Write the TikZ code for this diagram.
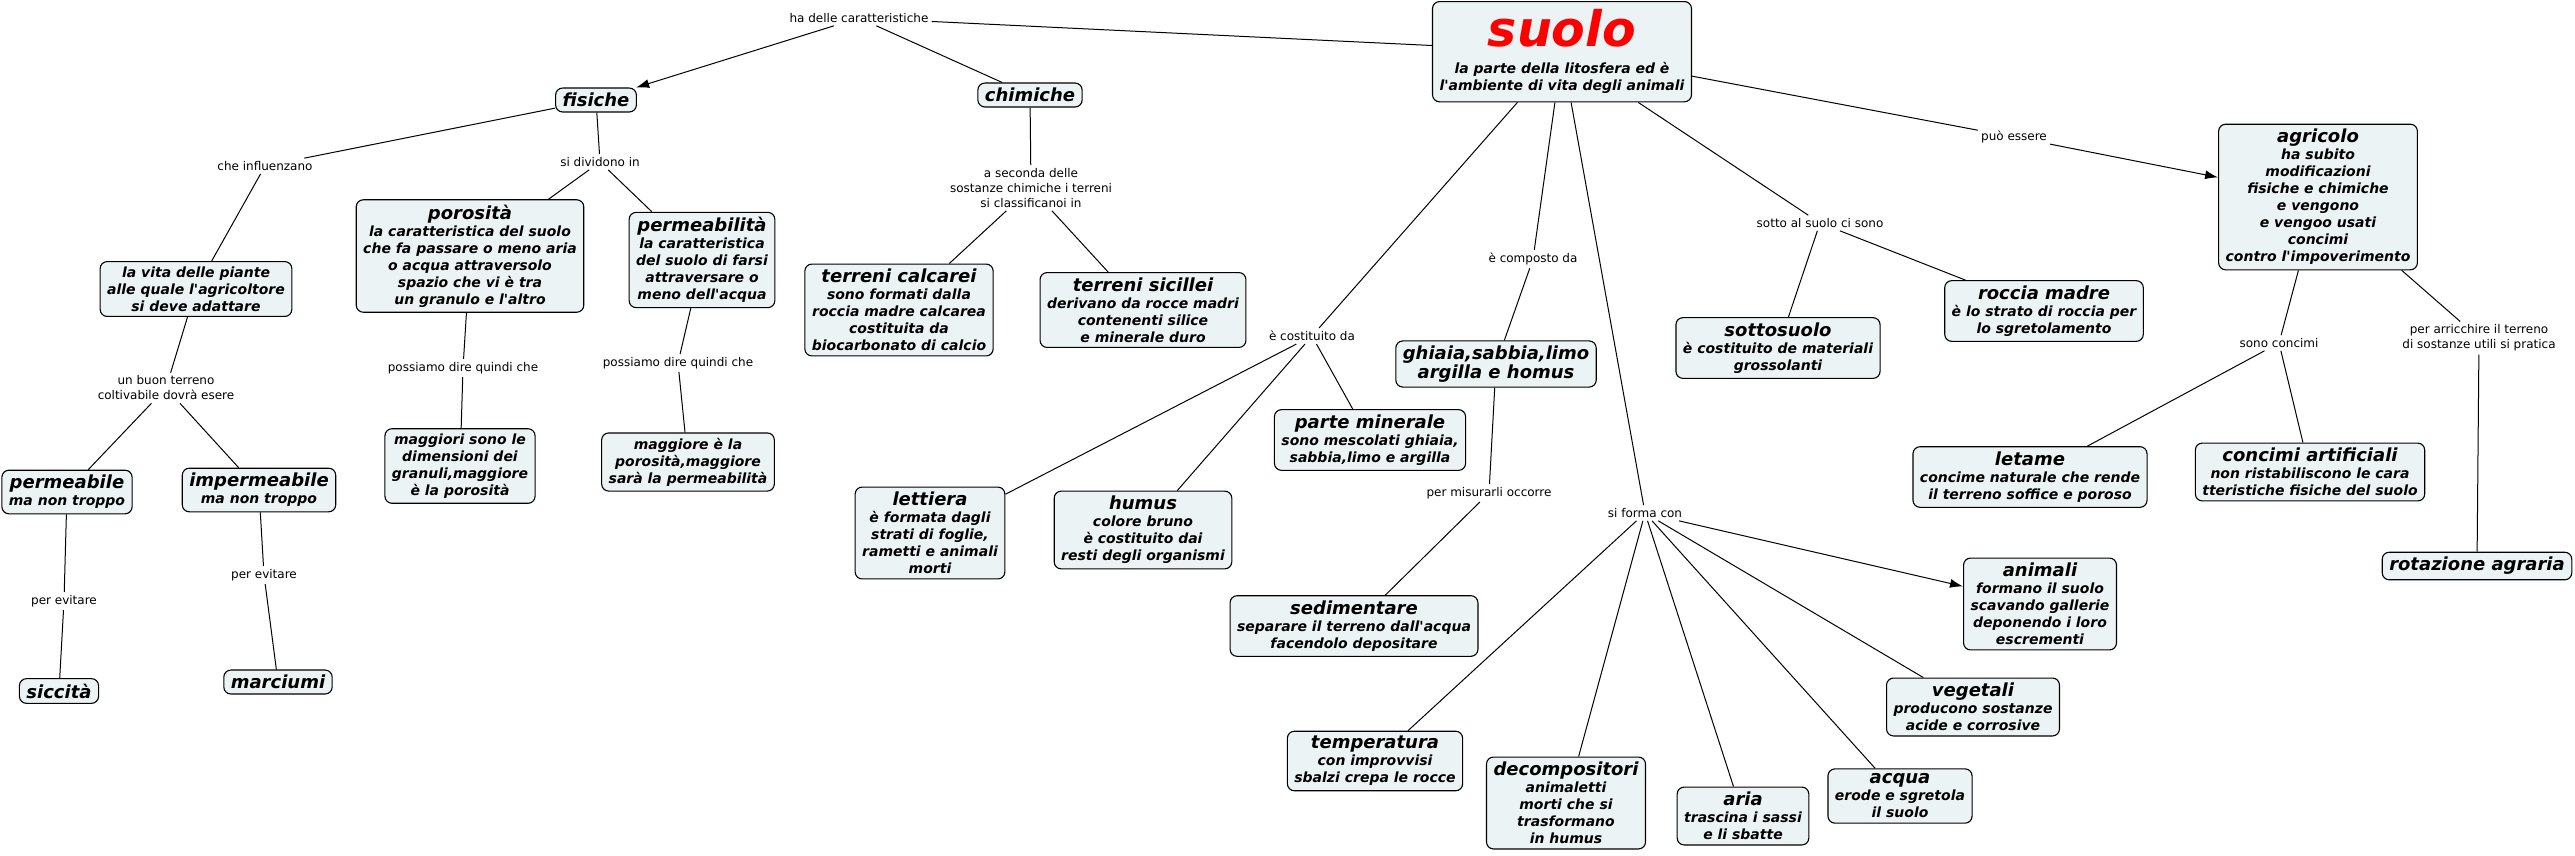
\documentclass[tikz,border=0pt]{standalone}
\usepackage{fontspec}
\newfontfamily\cmapfont{DejaVu Sans}
\usepackage{tikz}
\usetikzlibrary{arrows.meta}
\definecolor{boxfill}{RGB}{236,243,245}
\newcommand{\ctitle}[1]{{\fontsize{18}{21}\selectfont #1}}

\begin{document}
\begin{tikzpicture}[x=1pt, y=-1pt,
    concept/.style={draw, line width=1.1pt, rounded corners=7pt, fill=boxfill, align=center,
        inner xsep=7pt, inner ysep=5pt, font=\cmapfont\bfseries\itshape\fontsize{14}{17}\selectfont},
    linkword/.style={align=center, inner sep=3pt, font=\cmapfont\fontsize{12}{15}\selectfont},
    link/.style={line width=1pt},
    arrowlink/.style={link, -{Latex[length=13pt, width=9pt]}}]
                \useasboundingbox (0,0) rectangle (2575,855);

                % concetti
                \node[concept, anchor=north, inner ysep=8pt] (suolo) at (1562,1) {\textcolor{red}{\fontsize{49}{50}\selectfont suolo}\\[10pt] la parte della litosfera ed è\\ l'ambiente di vita degli animali};
                \node[concept] (fisiche) at (596,100) {\ctitle{fisiche}};
                \node[concept] (chimiche) at (1030,95) {\ctitle{chimiche}};
                \node[concept] (vita) at (196,289) {la vita delle piante\\ alle quale l'agricoltore\\ si deve adattare};
                \node[concept] (porosita) at (470,256) {\ctitle{porosità}\\ la caratteristica del suolo\\ che fa passare o meno aria\\ o acqua attraversolo\\ spazio che vi è tra\\ un granulo e l'altro};
                \node[concept] (permeab) at (702,260) {\ctitle{permeabilità}\\ la caratteristica\\ del suolo di farsi\\ attraversare o\\ meno dell'acqua};
                \node[concept] (calcarei) at (899,310) {\ctitle{terreni calcarei}\\ sono formati dalla\\ roccia madre calcarea\\ costituita da\\ biocarbonato di calcio};
                \node[concept] (sicillei) at (1143,310) {\ctitle{terreni sicillei}\\ derivano da rocce madri\\ contenenti silice\\ e minerale duro};
                \node[concept] (permeabile) at (67,492) {\ctitle{permeabile}\\ ma non troppo};
                \node[concept] (impermeabile) at (259,490) {\ctitle{impermeabile}\\ ma non troppo};
                \node[concept] (maggiori) at (460,466) {maggiori sono le\\ dimensioni dei\\ granuli,maggiore\\ è la porosità};
                \node[concept] (maggiore) at (688,462) {maggiore è la\\ porosità,maggiore\\ sarà la permeabilità};
                \node[concept] (siccita) at (59,691) {\ctitle{siccità}};
                \node[concept] (marciumi) at (278,682) {\ctitle{marciumi}};
                \node[concept] (lettiera) at (930,533) {\ctitle{lettiera}\\ è formata dagli\\ strati di foglie,\\ rametti e animali\\ morti};
                \node[concept] (humus) at (1143,530) {\ctitle{humus}\\ colore bruno\\ è costituito dai\\ resti degli organismi};
                \node[concept] (minerale) at (1370,440) {\ctitle{parte minerale}\\ sono mescolati ghiaia,\\ sabbia,limo e argilla};
                \node[concept] (ghiaia) at (1496,364) {\ctitle{ghiaia,sabbia,limo}\\ \ctitle{argilla e homus}};
                \node[concept] (sediment) at (1354,626) {\ctitle{sedimentare}\\ separare il terreno dall'acqua\\ facendolo depositare};
                \node[concept] (temperat) at (1375,761) {\ctitle{temperatura}\\ con improvvisi\\ sbalzi crepa le rocce};
                \node[concept] (decomp) at (1566,803) {\ctitle{decompositori}\\ animaletti\\ morti che si\\ trasformano\\ in humus};
                \node[concept] (aria) at (1743,816) {\ctitle{aria}\\ trascina i sassi\\ e li sbatte};
                \node[concept] (acqua) at (1900,796) {\ctitle{acqua}\\ erode e sgretola\\ il suolo};
                \node[concept] (vegetali) at (1973,707) {\ctitle{vegetali}\\ producono sostanze\\ acide e corrosive};
                \node[concept] (animali) at (2040,604) {\ctitle{animali}\\ formano il suolo\\ scavando gallerie\\ deponendo i loro\\ escrementi};
                \node[concept] (sottosuolo) at (1778,348) {\ctitle{sottosuolo}\\ è costituito de materiali\\ grossolanti};
                \node[concept] (roccia) at (2044,311) {\ctitle{roccia madre}\\ è lo strato di roccia per\\ lo sgretolamento};
                \node[concept] (agricolo) at (2318,197) {\ctitle{agricolo}\\ ha subito\\ modificazioni\\ fisiche e chimiche\\ e vengono\\ e vengoo usati\\ concimi\\ contro l'impoverimento};
                \node[concept] (letame) at (2030,477) {\ctitle{letame}\\ concime naturale che rende\\ il terreno soffice e poroso};
                \node[concept] (artific) at (2310,472) {\ctitle{concimi artificiali}\\ non ristabiliscono le cara\\ tteristiche fisiche del suolo};
                \node[concept] (rotazione) at (2477,566) {\ctitle{rotazione agraria}};

                % frasi di collegamento
                \node[linkword] (caratt) at (859,18) {ha delle caratteristiche};
                \node[linkword] (influenz) at (265,166) {che influenzano};
                \node[linkword] (dividono) at (600,162) {si dividono in};
                \node[linkword] (seconda) at (1031,188) {a seconda delle\\ sostanze chimiche i terreni\\ si classificanoi in};
                \node[linkword] (quindiA) at (463,368) {possiamo dire quindi che};
                \node[linkword] (quindiB) at (678,363) {possiamo dire quindi che};
                \node[linkword] (buon) at (166,388) {un buon terreno\\ coltivabile dovrà esere};
                \node[linkword] (evitareA) at (64,601) {per evitare};
                \node[linkword] (evitareB) at (264,575) {per evitare};
                \node[linkword] (costit) at (1312,336) {è costituito da};
                \node[linkword] (composto) at (1533,259) {è composto da};
                \node[linkword] (forma) at (1645,513) {si forma con};
                \node[linkword] (sotto) at (1820,223) {sotto al suolo ci sono};
                \node[linkword] (puo) at (2014,137) {può essere};
                \node[linkword] (misurarli) at (1489,493) {per misurarli occorre};
                \node[linkword] (sonoconc) at (2279,343) {sono concimi};
                \node[linkword] (arricch) at (2479,338) {per arricchire il terreno\\ di sostanze utili si pratica};

                % collegamenti
                \draw[link] (suolo) -- (caratt);
                \draw[arrowlink] (caratt) -- (fisiche);
                \draw[link] (caratt) -- (chimiche);
                \draw[link] (fisiche) -- (influenz) -- (vita);
                \draw[link] (fisiche) -- (dividono);
                \draw[link] (dividono) -- (porosita);
                \draw[link] (dividono) -- (permeab);
                \draw[link] (chimiche) -- (seconda);
                \draw[link] (seconda) -- (calcarei);
                \draw[link] (seconda) -- (sicillei);
                \draw[link] (porosita) -- (quindiA) -- (maggiori);
                \draw[link] (permeab) -- (quindiB) -- (maggiore);
                \draw[link] (vita) -- (buon);
                \draw[link] (buon) -- (permeabile);
                \draw[link] (buon) -- (impermeabile);
                \draw[link] (permeabile) -- (evitareA) -- (siccita);
                \draw[link] (impermeabile) -- (evitareB) -- (marciumi);
                \draw[link] (suolo) -- (costit);
                \foreach \n in {lettiera, humus, minerale}
                    \draw[link] (costit) -- (\n);
                \draw[link] (suolo) -- (composto) -- (ghiaia);
                \draw[link] (ghiaia) -- (misurarli) -- (sediment);
                \draw[link] (suolo) -- (forma);
                \draw[arrowlink] (forma) -- (animali);
                \foreach \n in {vegetali, acqua, aria, decomp, temperat}
                    \draw[link] (forma) -- (\n);
                \draw[link] (suolo) -- (sotto);
                \draw[link] (sotto) -- (sottosuolo);
                \draw[link] (sotto) -- (roccia);
                \draw[link] (suolo) -- (puo);
                \draw[arrowlink] (puo) -- (agricolo);
                \draw[link] (agricolo) -- (sonoconc);
                \draw[link] (sonoconc) -- (letame);
                \draw[link] (sonoconc) -- (artific);
                \draw[link] (agricolo) -- (arricch) -- (rotazione);

            \end{tikzpicture}
\end{document}
